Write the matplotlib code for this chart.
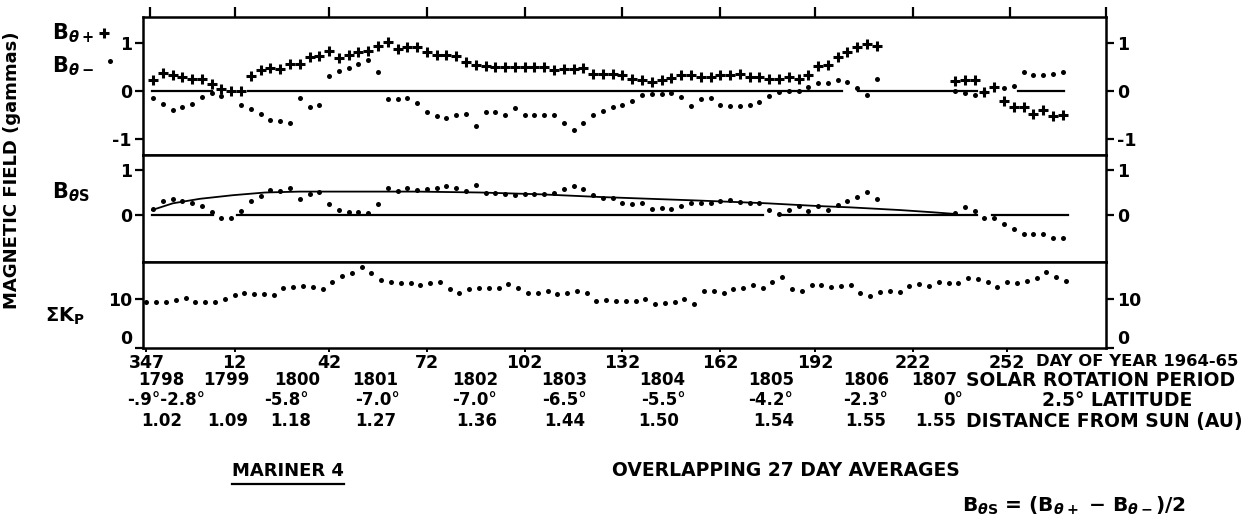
import numpy as np
import matplotlib.pyplot as plt
import matplotlib.transforms as mtransforms

plt.rcParams['font.family'] = ['DejaVu Sans']
plt.rcParams['font.weight'] = 'bold'
plt.rcParams['mathtext.fontset'] = 'custom'
plt.rcParams['mathtext.rm'] = 'DejaVu Sans:bold'
plt.rcParams['mathtext.it'] = 'DejaVu Sans:italic:bold'
plt.rcParams['mathtext.bf'] = 'DejaVu Sans:bold'

N = np.nan

# days after day 347 of 1964, one overlapping 27 day average every 3 days
day = np.arange(1, 283, 3)        # B theta panels (94 averages)
day_kp = np.arange(-1, 284, 3)    # Kp panel (95 averages)

b_plus = [0.24, 0.37, 0.33, 0.30, 0.25, 0.25, 0.14, 0.04, 0.01, 0.01,
          0.32, 0.44, 0.47, 0.46, 0.56, 0.56, 0.70, 0.72, 0.83, 0.68,
          0.76, 0.81, 0.83, 0.94, 1.01, 0.87, 0.92, 0.91, 0.81, 0.76,
          0.74, 0.72, 0.61, 0.54, 0.53, 0.51, 0.51, 0.51, 0.51, 0.51,
          0.49, 0.44, 0.45, 0.45, 0.47, 0.35, 0.35, 0.35, 0.33, 0.25,
          0.24, 0.19, 0.23, 0.28, 0.33, 0.33, 0.30, 0.30, 0.33, 0.33,
          0.35, 0.29, 0.30, 0.26, 0.26, 0.29, 0.25, 0.33, 0.53, 0.54,
          0.70, 0.82, 0.91, 0.98, 0.94, N, N, N, N, N,
          N, N, 0.21, 0.23, 0.23, -0.01, 0.09, -0.21, -0.33, -0.33,
          -0.47, -0.40, -0.51, -0.50]

b_minus = [-0.15, -0.27, -0.40, -0.34, -0.27, -0.12, -0.05, -0.10, N, -0.29,
           -0.38, -0.47, -0.60, -0.63, -0.67, -0.15, -0.33, -0.28, 0.32, 0.42,
           0.47, 0.56, 0.65, 0.40, -0.17, -0.17, -0.15, -0.24, -0.44, -0.51,
           -0.56, -0.49, -0.47, -0.72, -0.44, -0.44, -0.49, -0.36, -0.49, -0.50,
           -0.50, -0.50, -0.67, -0.80, -0.67, -0.50, -0.42, -0.33, -0.28, -0.21,
           -0.08, -0.07, -0.07, -0.05, -0.12, -0.31, -0.17, -0.15, -0.29, -0.31,
           -0.31, -0.29, -0.22, -0.10, -0.01, 0.01, 0.01, 0.09, 0.17, 0.16,
           0.23, 0.19, 0.07, -0.08, 0.26, N, N, N, N, N,
           N, N, 0.00, -0.04, -0.08, -0.03, N, 0.06, 0.10, 0.39,
           0.33, 0.33, 0.35, 0.40]

b_s = [0.13, 0.31, 0.36, 0.31, 0.27, 0.19, 0.07, -0.06, -0.07, 0.10,
       0.32, 0.42, 0.56, 0.54, 0.59, 0.35, 0.46, 0.50, 0.24, 0.11,
       0.07, 0.06, 0.05, 0.24, 0.59, 0.54, 0.59, 0.56, 0.57, 0.61,
       0.64, 0.59, 0.54, 0.67, 0.48, 0.48, 0.47, 0.44, 0.46, 0.46,
       0.46, 0.48, 0.57, 0.64, 0.57, 0.44, 0.37, 0.37, 0.27, 0.24,
       0.27, 0.13, 0.15, 0.14, 0.19, 0.27, 0.26, 0.26, 0.31, 0.33,
       0.30, 0.26, 0.27, 0.11, 0.02, 0.11, 0.19, 0.09, 0.19, 0.11,
       0.22, 0.31, 0.40, 0.50, 0.35, N, N, N, N, N,
       N, N, 0.05, 0.17, 0.09, -0.06, -0.06, -0.20, -0.30, -0.42,
       -0.42, -0.42, -0.52, -0.52]

# smooth curve drawn through the B theta s averages
fit_day = [0.7, 7.1, 15.4, 25.5, 35.4, 46, 82, 101.3, 119.7, 138.1,
           168.8, 189.3, 204.7, 214.8, 230.1, 240.3, 247.6]
fit_val = [0.11, 0.26, 0.36, 0.44, 0.50, 0.52, 0.52, 0.50, 0.46, 0.40,
           0.32, 0.26, 0.20, 0.17, 0.11, 0.06, 0.02]

kp = [9.4, 9.4, 9.5, 9.8, 10.2, 9.5, 9.4, 9.5, 10.1, 10.8,
      11.4, 11.1, 11.1, 10.8, 12.3, 12.5, 12.8, 12.6, 12.2, 13.5,
      14.8, 15.4, 16.6, 15.4, 13.9, 13.6, 13.4, 13.3, 12.9, 13.4,
      13.6, 12.1, 11.2, 12.1, 12.3, 12.3, 12.3, 13.2, 12.3, 11.2,
      11.4, 11.8, 11.0, 11.4, 11.8, 11.4, 9.7, 9.9, 9.7, 9.7,
      9.7, 10.0, 9.0, 9.2, 9.5, 10.1, 9.0, 11.7, 11.7, 11.4,
      12.1, 12.3, 13.0, 12.3, 13.5, 14.7, 12.1, 11.8, 13.0, 13.0,
      12.6, 12.7, 12.9, 11.4, 10.7, 11.5, 11.7, 11.5, 12.8, 13.2,
      12.8, 13.6, 13.4, 13.4, 14.4, 14.1, 13.6, 12.5, 13.6, 13.4,
      13.7, 14.4, 15.6, 14.5, 13.7]

# extents of the zero reference lines (they are broken where points sit on them)
zero_top = [(0.7, 19.1), (30.1, 212.3), (217.3, 253.8), (266.3, 280.4)]
zero_mid = [(0.7, 19.4), (26.8, 188.1), (193.3, 253.8), (258.4, 281.7)]

top_ticks = [0, 26, 55, 85, 115, 145, 175, 204, 234, 264, 293.3]
day_ticks = [-1, 26, 55, 85, 115, 145, 175, 204, 234, 263]
day_labels = ['347', '12', '42', '72', '102', '132', '162', '192', '222', '252']

rot_x = [3.5, 23.4, 45.2, 69.1, 99.8, 127.1, 157.2, 190.6, 219.7, 240.6]
rot_lab = ['1798', '1799', '1800', '1801', '1802', '1803', '1804', '1805', '1806', '1807']
lat_x = [5, 41.8, 70, 99.5, 127.1, 157.7, 190.3, 219.7, 246.5]
lat_lab = ['-.9°-2.8°', '-5.8°', '-7.0°', '-7.0°', '-6.5°', '-5.5°', '-4.2°', '-2.3°', '0°']
dist_x = [3.8, 24, 43.3, 69.4, 100.4, 127.4, 156.2, 191.5, 219.7, 240.9]
dist_lab = ['1.02', '1.09', '1.18', '1.27', '1.36', '1.44', '1.50', '1.54', '1.55', '1.55']

W, H = 1251, 521
fig = plt.figure(figsize=(W / 100, H / 100), dpi=100)


def fx(px):
    return px / W


def fy(py):
    return 1 - py / H


left, width = fx(143), (1106 - 143) / W
ax1 = fig.add_axes([left, fy(155), width, (155 - 17) / H])
ax2 = fig.add_axes([left, fy(262), width, (262 - 155) / H])
ax3 = fig.add_axes([left, fy(347.7), width, (347.7 - 262) / H])

xlim = (-2.07, 293.3)
plus_kw = dict(ls='none', marker='+', ms=7, color='black', mew=2.2)
dot_kw = dict(ls='none', marker='o', ms=3.6, color='black', mew=0)

ax1.plot(day, b_plus, **plus_kw)
ax1.plot(day, b_minus, **dot_kw)
for a, b in zero_top:
    ax1.plot([a, b], [0, 0], color='black', lw=1.6)
ax1.set_ylim(-1.33, 1.54)

ax2.plot(day, b_s, **dot_kw)
ax2.plot(fit_day, fit_val, color='black', lw=1.3)
for a, b in zero_mid:
    ax2.plot([a, b], [0, 0], color='black', lw=1.6)
ax2.set_ylim(-1.044, 1.333)

ax3.plot(day_kp, kp, **dot_kw)
ax3.set_ylim(0, 17.7)

for ax in (ax1, ax2, ax3):
    ax.set_xlim(*xlim)
    for s in ax.spines.values():
        s.set_linewidth(1.8)
    ax.tick_params(axis='y', left=True, right=True, labelleft=True, labelright=True,
                   direction='out', length=6, width=1.6, pad=2, labelsize=12.5)

ax1.set_yticks([-1, 0, 1], ['-1', '0', '1'])
ax2.set_yticks([0, 1], ['0', '1'])
ax3.set_yticks([0, 10], ['0', '10'])
# the zero of the Kp scale sits just above the day axis
for lab in ax3.get_yticklabels():
    if lab.get_text() == '0':
        lab.set_va('bottom')

ax1.xaxis.tick_top()
ax1.set_xticks(top_ticks)
ax1.tick_params(axis='x', direction='out', length=7, width=1.6, labeltop=False)
ax2.set_xticks([])
ax3.set_xticks(day_ticks, day_labels)
ax3.tick_params(axis='x', direction='out', length=3, width=1.4, pad=1.5, labelsize=12.5)

# panel labels
fig.text(fx(52), fy(33), r'$\mathrm{B}_{\theta +}$', fontsize=15, va='center')
fig.text(fx(52), fy(66), r'$\mathrm{B}_{\theta -}$', fontsize=15, va='center')
ax1.plot([fx(104)], [fy(33)], transform=fig.transFigure, clip_on=False, **plus_kw)
ax1.plot([fx(110)], [fy(61)], transform=fig.transFigure, clip_on=False, **dot_kw)
fig.text(fx(52), fy(192), r'$\mathrm{B}_{\theta \mathrm{S}}$', fontsize=15, va='center')
fig.text(fx(45), fy(316), r'$\Sigma\mathrm{K}_{\mathrm{P}}$', fontsize=14, va='center')
fig.text(fx(12), fy(170), 'MAGNETIC FIELD (gammas)', rotation=90, fontsize=13,
         ha='center', va='center')

# rows of labels under the day axis
tr = mtransforms.blended_transform_factory(ax3.transData, fig.transFigure)
for x, s in zip(rot_x, rot_lab):
    fig.text(x, fy(380), s, transform=tr, ha='center', va='center', fontsize=12)
for x, s in zip(lat_x, lat_lab):
    fig.text(x, fy(400), s, transform=tr, ha='center', va='center', fontsize=12)
for x, s in zip(dist_x, dist_lab):
    fig.text(x, fy(421), s, transform=tr, ha='center', va='center', fontsize=12)

fig.text(fx(1036), fy(361), 'DAY OF YEAR 1964-65', fontsize=11.8, va='center')
fig.text(fx(966), fy(380), 'SOLAR ROTATION PERIOD', fontsize=13.5, va='center')
fig.text(fx(1042), fy(400), '2.5° LATITUDE', fontsize=13.5, va='center')
fig.text(fx(966), fy(421), 'DISTANCE FROM SUN (AU)', fontsize=13.5, va='center')

t = fig.text(fx(288), fy(471), 'MARINER 4', fontsize=13, ha='center', va='center')
fig.text(fx(612), fy(471), 'OVERLAPPING 27 DAY AVERAGES', fontsize=13.5, va='center')
fig.text(fx(962), fy(506), r'$\mathrm{B}_{\theta \mathrm{S}}$ = ($\mathrm{B}_{\theta +}$ $-$ $\mathrm{B}_{\theta -}$)/2',
         fontsize=14.5, va='center')

fig.canvas.draw()
bb = t.get_window_extent().transformed(fig.transFigure.inverted())
fig.add_artist(plt.Line2D([bb.x0, bb.x1], [bb.y0 - 0.008, bb.y0 - 0.008],
                          transform=fig.transFigure, color='black', lw=1.6))

fig.savefig('out.png', dpi=100)
